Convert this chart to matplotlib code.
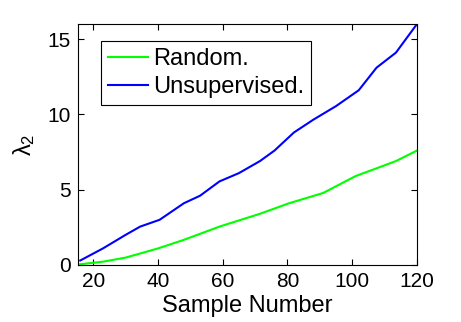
import matplotlib
matplotlib.use("Agg")
import matplotlib.pyplot as plt

plt.rcParams['font.family'] = ['Liberation Sans', 'DejaVu Sans']
plt.rcParams['mathtext.fontset'] = 'custom'
plt.rcParams['mathtext.rm'] = 'Liberation Sans'
plt.rcParams['mathtext.it'] = 'Liberation Sans'

x_unsup = [16, 23, 30, 34.5, 40.5, 48, 53, 59, 65, 71.5, 76, 82, 88, 95, 102, 107.5, 113.5, 120]
y_unsup = [0.3, 1.1, 2.0, 2.55, 3.0, 4.1, 4.6, 5.55, 6.1, 6.9, 7.6, 8.8, 9.65, 10.55, 11.6, 13.1, 14.1, 16.0]

x_rand = [16, 23, 30, 40, 48, 59, 71.5, 80.5, 91, 101, 113.5, 120]
y_rand = [0.05, 0.22, 0.49, 1.1, 1.67, 2.55, 3.4, 4.1, 4.78, 5.9, 6.9, 7.6]

xticks = [20, 40, 60, 80, 100, 120]
yticks = [0, 5, 10, 15]

fig = plt.figure(figsize=(4.61, 3.22), dpi=100)
ax = fig.add_axes([78/461, 1-265/322, (417-78)/461, (265-24)/322])
ax.plot(x_rand, y_rand, color='#00ff00', lw=1.5, label='Random.')
ax.plot(x_unsup, y_unsup, color='#0000ff', lw=1.5, label='Unsupervised.')
ax.set_xlim(15.3, 120)
ax.set_ylim(0, 16)
ax.set_xticks(xticks)
ax.set_yticks(yticks)
ax.tick_params(direction='in', top=True, right=True, labelsize=15, length=4, pad=5)
for s in ax.spines.values():
    s.set_linewidth(0.8)
ax.set_xlabel('Sample Number', fontsize=17, labelpad=3)
ax.set_ylabel(r'$\lambda_2$', fontsize=17, labelpad=8)
leg = ax.legend(loc='upper left', bbox_to_anchor=(0.067, 0.928), fontsize=17,
                frameon=True, fancybox=False, edgecolor='black', framealpha=1,
                handlelength=1.7, handletextpad=0.2, borderpad=0.3, labelspacing=0.25,
                borderaxespad=0)
leg.get_frame().set_linewidth(0.8)
fig.savefig('out.png', dpi=100)
